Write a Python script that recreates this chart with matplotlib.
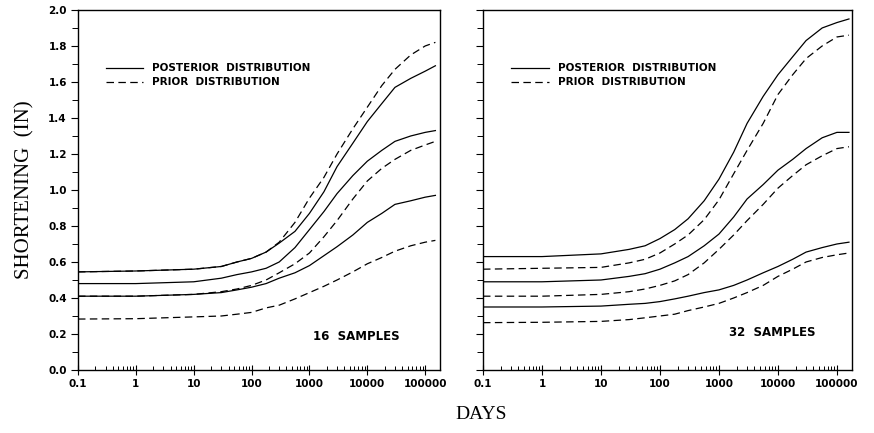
import numpy as np
import matplotlib
matplotlib.use("Agg")
import matplotlib.pyplot as plt
from matplotlib.ticker import FixedLocator, LogLocator, NullFormatter, MultipleLocator

# days (roughly every quarter/half decade)
days_16 = [0.1, 1, 10, 30, 56, 100, 178, 300, 562, 1000, 1778, 3000, 5623,
           10000, 17783, 30000, 56234, 100000, 150000]
days_32 = [0.1, 1, 10, 30, 56, 100, 178, 300, 562, 1000, 1778, 3000, 5623,
           10000, 17783, 30000, 56234, 100000, 160000]

# 16 samples panel
post_hi_16 = [0.545, 0.55, 0.56, 0.575, 0.60, 0.62, 0.655, 0.705, 0.77, 0.87, 0.99, 1.13,
              1.26, 1.38, 1.48, 1.57, 1.62, 1.66, 1.69]
prior_hi_16 = [0.545, 0.55, 0.56, 0.575, 0.60, 0.62, 0.655, 0.71, 0.82, 0.955, 1.07, 1.20,
               1.34, 1.46, 1.58, 1.67, 1.75, 1.80, 1.82]
post_mid_16 = [0.48, 0.48, 0.49, 0.51, 0.53, 0.545, 0.565, 0.60, 0.68, 0.78, 0.88, 0.98,
               1.08, 1.16, 1.22, 1.27, 1.30, 1.32, 1.33]
prior_mid_16 = [0.41, 0.41, 0.42, 0.435, 0.45, 0.47, 0.50, 0.54, 0.59, 0.65, 0.74, 0.83,
                0.95, 1.05, 1.12, 1.17, 1.22, 1.25, 1.27]
post_lo_16 = [0.41, 0.41, 0.42, 0.43, 0.445, 0.46, 0.48, 0.51, 0.54, 0.58, 0.635, 0.685,
              0.75, 0.82, 0.87, 0.92, 0.94, 0.96, 0.97]
prior_lo_16 = [0.283, 0.285, 0.295, 0.30, 0.31, 0.32, 0.345, 0.36, 0.395, 0.43, 0.465, 0.50,
               0.545, 0.59, 0.625, 0.66, 0.69, 0.71, 0.72]

# 32 samples panel
post_hi_32 = [0.63, 0.63, 0.645, 0.67, 0.69, 0.73, 0.78, 0.84, 0.94, 1.06, 1.21, 1.37,
              1.52, 1.64, 1.74, 1.83, 1.90, 1.93, 1.95]
prior_hi_32 = [0.56, 0.565, 0.57, 0.595, 0.615, 0.65, 0.70, 0.75, 0.835, 0.945, 1.09, 1.22,
               1.37, 1.53, 1.64, 1.73, 1.80, 1.85, 1.86]
post_mid_32 = [0.49, 0.49, 0.50, 0.52, 0.535, 0.56, 0.595, 0.63, 0.69, 0.755, 0.85, 0.95,
               1.03, 1.11, 1.17, 1.23, 1.29, 1.32, 1.32]
prior_mid_32 = [0.41, 0.41, 0.42, 0.435, 0.45, 0.47, 0.495, 0.53, 0.595, 0.67, 0.75, 0.83,
                0.92, 1.01, 1.08, 1.14, 1.19, 1.23, 1.24]
post_lo_32 = [0.35, 0.35, 0.355, 0.365, 0.37, 0.38, 0.395, 0.41, 0.43, 0.445, 0.47, 0.50,
              0.54, 0.575, 0.615, 0.655, 0.68, 0.70, 0.71]
prior_lo_32 = [0.263, 0.265, 0.27, 0.28, 0.29, 0.30, 0.31, 0.33, 0.35, 0.37, 0.40, 0.43,
               0.47, 0.52, 0.56, 0.60, 0.625, 0.64, 0.65]

xticks = [0.1, 1, 10, 100, 1000, 10000, 100000]
xticklabels = ["0.1", "1", "10", "100", "1000", "10000", "100000"]
yticks = [0.0, 0.2, 0.4, 0.6, 0.8, 1.0, 1.2, 1.4, 1.6, 1.8, 2.0]

tickfont = dict(family="DejaVu Sans", weight="bold", size=7.5)
lw = 0.9
dash = (6, 3.5)

fig = plt.figure(figsize=(8.74, 4.33), dpi=100)
ax1 = fig.add_axes([0.0892, 0.1455, 0.4142, 0.8315])
ax2 = fig.add_axes([0.5526, 0.1455, 0.4222, 0.8315])


def panel(ax, days, post, prior, label, lab_xy, show_ylabels):
    for ys in post:
        ax.plot(days, ys, color="black", lw=lw)
    for ys in prior:
        ax.plot(days, ys, color="black", lw=lw, dashes=dash)
    ax.set_xscale("log")
    ax.set_xlim(0.1, 1.8e5)
    ax.set_ylim(0, 2.0)
    ax.xaxis.set_major_locator(FixedLocator(xticks))
    ax.set_xticklabels(xticklabels, fontdict=tickfont)
    ax.xaxis.set_minor_locator(LogLocator(base=10, subs=np.arange(2, 10), numticks=20))
    ax.xaxis.set_minor_formatter(NullFormatter())
    ax.tick_params(axis="x", which="major", direction="inout", length=7, width=0.8, pad=3)
    ax.tick_params(axis="x", which="minor", direction="in", length=3, width=0.7)
    ax.yaxis.set_major_locator(FixedLocator(yticks))
    ax.yaxis.set_minor_locator(MultipleLocator(0.1))
    ax.tick_params(axis="y", which="major", direction="out", length=5, width=0.8, pad=3)
    ax.tick_params(axis="y", which="minor", direction="out", length=4, width=0.7)
    if show_ylabels:
        ax.set_yticklabels(["%.1f" % v for v in yticks], fontdict=tickfont)
    else:
        ax.set_yticklabels([])
    for s in ax.spines.values():
        s.set_linewidth(1.0)

    # hand-drawn legend like the plotter output
    ax.plot([0.077, 0.18], [0.839, 0.839], transform=ax.transAxes, color="black", lw=lw)
    ax.plot([0.077, 0.18], [0.80, 0.80], transform=ax.transAxes, color="black", lw=lw, dashes=dash)
    ax.text(0.204, 0.839, "POSTERIOR  DISTRIBUTION", transform=ax.transAxes,
            va="center", ha="left", **tickfont)
    ax.text(0.204, 0.80, "PRIOR  DISTRIBUTION", transform=ax.transAxes,
            va="center", ha="left", **tickfont)
    ax.text(lab_xy[0], lab_xy[1], label, transform=ax.transAxes,
            va="center", ha="center", family="DejaVu Sans", weight="bold", size=8.5)


panel(ax1, days_16, [post_hi_16, post_mid_16, post_lo_16],
      [prior_hi_16, prior_mid_16, prior_lo_16], "16  SAMPLES", (0.77, 0.092), True)
panel(ax2, days_32, [post_hi_32, post_mid_32, post_lo_32],
      [prior_hi_32, prior_mid_32, prior_lo_32], "32  SAMPLES", (0.783, 0.105), False)

fig.text(0.029, 0.563, "SHORTENING  (IN)", rotation=90, va="center", ha="center",
         family="Liberation Serif", size=15)
fig.text(0.55, 0.042, "DAYS", va="center", ha="center",
         family="Liberation Serif", size=14)

fig.savefig("out.png", dpi=100)
